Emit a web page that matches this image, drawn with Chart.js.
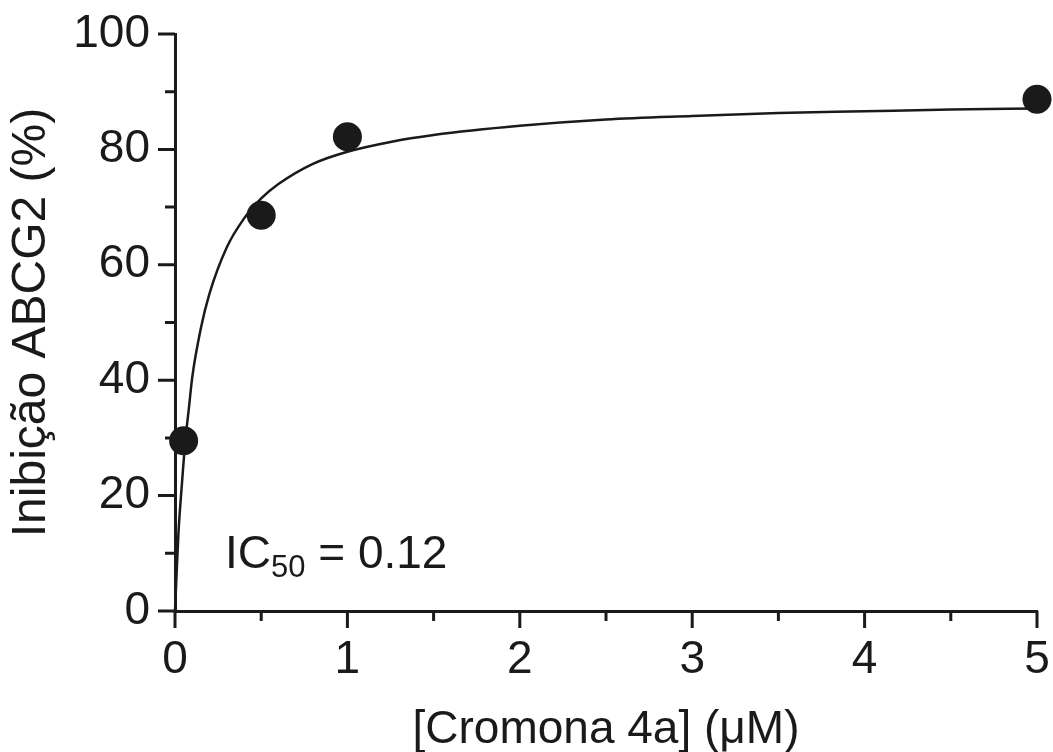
<!DOCTYPE html>
<html>
<head>
<meta charset="utf-8">
<title>Inibição ABCG2</title>
<script src="https://cdn.jsdelivr.net/npm/chart.js"></script>
<style>
  html, body { margin: 0; padding: 0; background: #fff; }
  #wrap { width: 1053px; height: 752px; position: relative; }
</style>
</head>
<body>
<div id="wrap"><canvas id="c"></canvas></div>
<script>
// measured points
const doseX = [0.05, 0.5, 1, 5];
const inhibY = [29.5, 68.6, 82.2, 88.7];

// fitted curve
const fitX = [0, 0.01, 0.02, 0.04, 0.06, 0.08, 0.1, 0.15, 0.2, 0.3, 0.4, 0.5, 0.6, 0.8, 1, 1.25, 1.5, 2, 2.5, 3, 3.5, 4, 4.5, 5];
const fitY = [0, 7, 13.5, 22, 29.5, 35, 40.5, 49, 55, 63, 68, 71.5, 74, 77.5, 79.6, 81.3, 82.5, 84.1, 85.2, 85.8, 86.3, 86.6, 86.9, 87.1];

const xTicks = [0, 1, 2, 3, 4, 5];
const yTicks = [0, 20, 40, 60, 80, 100];
const xMinor = [0.5, 1.5, 2.5, 3.5, 4.5];
const yMinor = [10, 30, 50, 70, 90];

const ink = '#1a1a1a';
const fam = "'Liberation Sans', Arial, sans-serif";

// outward tick marks, major and minor
const tickMarks = {
  id: 'tickMarks',
  afterDraw(chart) {
    const { ctx, chartArea: a, scales: { x, y } } = chart;
    ctx.save();
    ctx.strokeStyle = ink; ctx.lineWidth = 3;
    ctx.beginPath();
    xTicks.forEach(v => { const px = x.getPixelForValue(v); ctx.moveTo(px, a.bottom); ctx.lineTo(px, a.bottom + 17); });
    xMinor.forEach(v => { const px = x.getPixelForValue(v); ctx.moveTo(px, a.bottom); ctx.lineTo(px, a.bottom + 10); });
    yTicks.forEach(v => { const py = y.getPixelForValue(v); ctx.moveTo(a.left, py); ctx.lineTo(a.left - 17, py); });
    yMinor.forEach(v => { const py = y.getPixelForValue(v); ctx.moveTo(a.left, py); ctx.lineTo(a.left - 10, py); });
    ctx.stroke();

    // IC50 note
    const tx = x.getPixelForValue(0.29), ty = y.getPixelForValue(7.5);
    ctx.fillStyle = ink; ctx.textBaseline = 'alphabetic'; ctx.textAlign = 'left';
    ctx.font = '46px ' + fam;
    ctx.fillText('IC', tx, ty);
    let w = ctx.measureText('IC').width;
    ctx.font = '31px ' + fam;
    ctx.fillText('50', tx + w, ty + 9);
    w += ctx.measureText('50').width;
    ctx.font = '46px ' + fam;
    ctx.fillText(' = 0.12', tx + w, ty);
    ctx.restore();
  }
};

new Chart(document.getElementById('c'), {
  type: 'scatter',
  data: {
    datasets: [
      {
        label: 'dados',
        data: doseX.map((v, i) => ({ x: v, y: inhibY[i] })),
        pointRadius: 14.5, pointHoverRadius: 14.5,
        backgroundColor: ink, borderColor: ink, borderWidth: 0,
        clip: false
      },
      {
        label: 'ajuste',
        type: 'line',
        data: fitX.map((v, i) => ({ x: v, y: fitY[i] })),
        showLine: true, pointRadius: 0,
        borderColor: ink, borderWidth: 2.5,
        cubicInterpolationMode: 'monotone',
        fill: false, clip: false
      }
    ]
  },
  options: {
    responsive: true, maintainAspectRatio: false, animation: false,
    layout: { padding: { left: 0, top: 34, right: 16, bottom: 0 } },
    plugins: { legend: { display: false }, tooltip: { enabled: false } },
    scales: {
      x: {
        type: 'linear', min: 0, max: 5,
        afterFit: s => { s.height = 141; s.paddingLeft = 0; s.paddingRight = 0; },
        border: { color: ink, width: 3 },
        grid: { drawOnChartArea: false, drawTicks: false },
        ticks: { stepSize: 1, padding: 22, color: ink, font: { family: fam, size: 46 } },
        title: { display: true, text: '[Cromona 4a] (μM)', color: ink, font: { family: fam, size: 46 }, padding: { top: 0, bottom: -6 } }
      },
      y: {
        type: 'linear', min: 0, max: 100,
        afterFit: s => { s.width = 175; s.paddingTop = 0; s.paddingBottom = 0; },
        border: { color: ink, width: 3 },
        grid: { drawOnChartArea: false, drawTicks: false },
        ticks: { stepSize: 20, padding: 25, color: ink, font: { family: fam, size: 46 } },
        title: { display: true, text: 'Inibição ABCG2 (%)', color: ink, font: { family: fam, size: 48 }, padding: { top: 3, bottom: 0 } }
      }
    }
  },
  plugins: [tickMarks]
});
</script>
</body>
</html>
